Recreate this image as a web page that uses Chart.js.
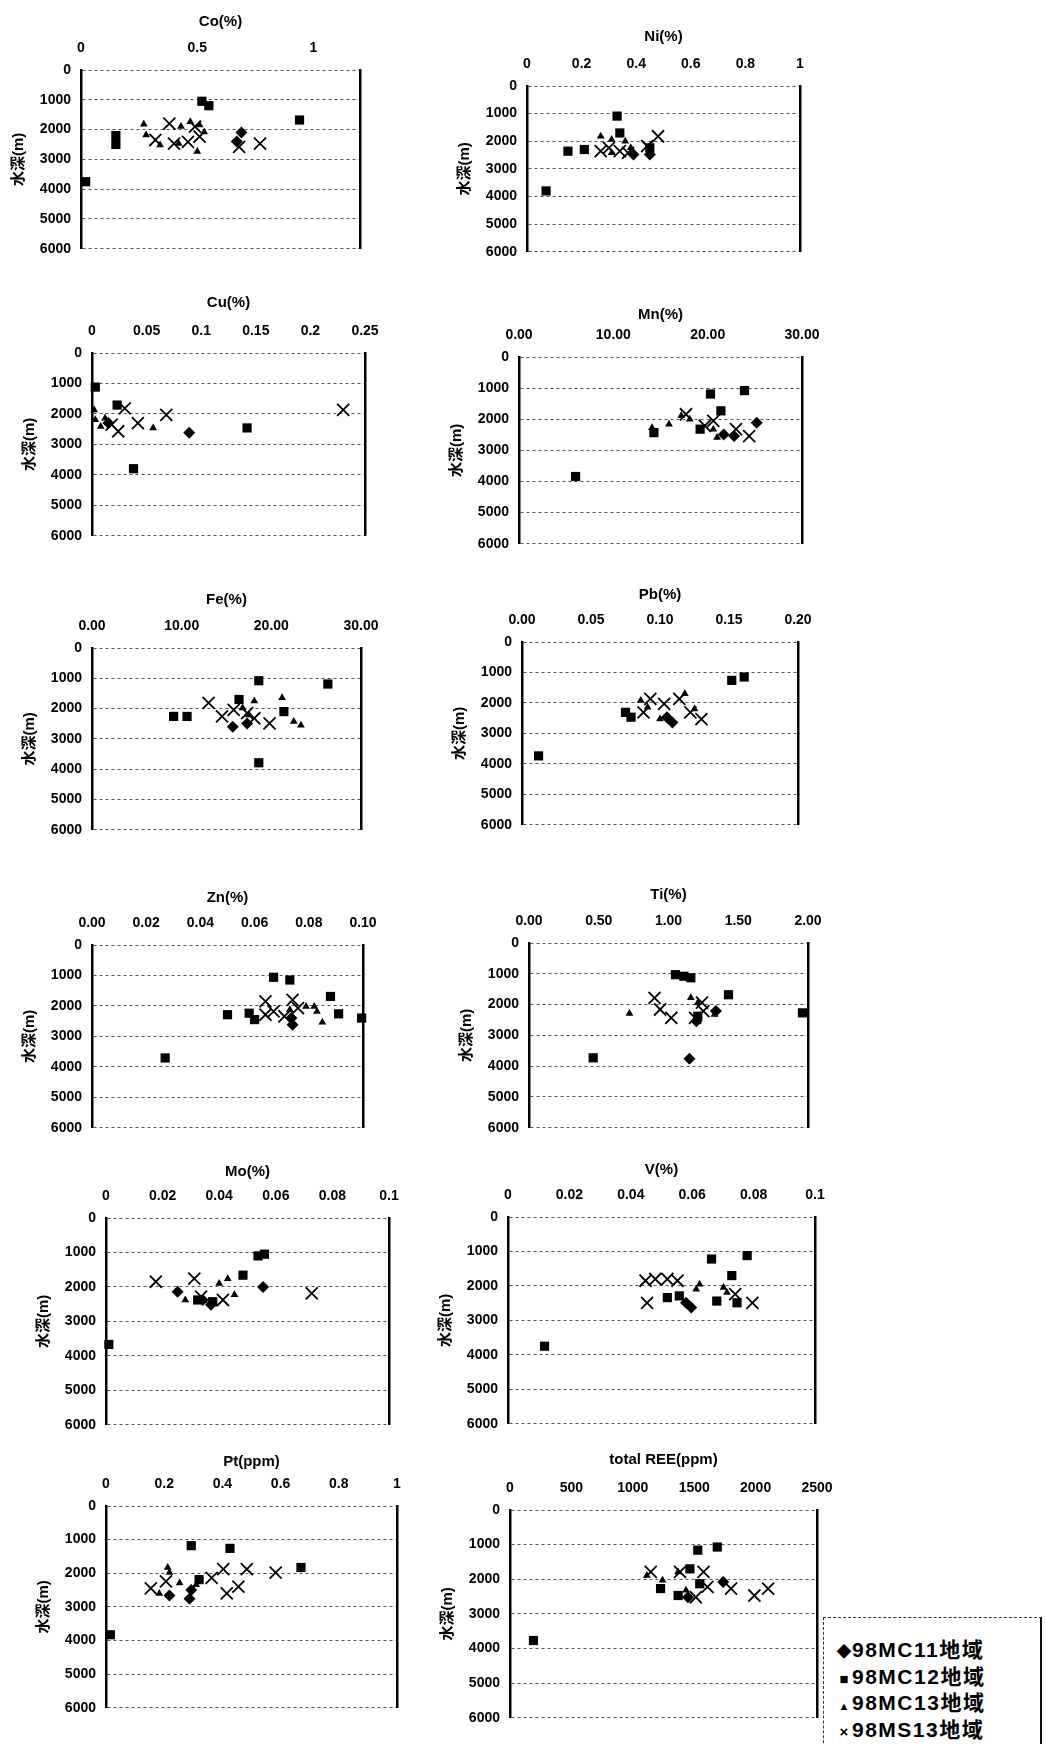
<!DOCTYPE html>
<html>
<head>
<meta charset="utf-8">
<script src="https://cdn.jsdelivr.net/npm/chart.js@4.4.1/dist/chart.umd.min.js"></script>
<style>
  body { margin: 0; background: #fff; }
  #page { position: relative; width: 1045px; height: 1744px; overflow: hidden; }
  #page canvas { position: absolute; }
  #legend {
    position: absolute; left: 823px; top: 1617px; width: 216px; height: 140px;
    border-top: 1px dashed #333; border-left: 1px dashed #333; border-right: 2px solid #111;
    font: bold 21px "Liberation Sans", "Noto Sans CJK JP", sans-serif; color: #000;
  }
  #legend div { position: absolute; left: 12px; height: 22px; line-height: 22px; white-space: nowrap; letter-spacing: 1.5px; }
  #legend span { display: inline-block; width: 16px; text-align: center; letter-spacing: 0; }
</style>
</head>
<body>
<div id="page"><div id="legend"></div></div>
<script>
const seriesNames = ['98MC11地域', '98MC12地域', '98MC13地域', '98MS13地域'];
const depthTicks = ['0', '1000', '2000', '3000', '4000', '5000', '6000'];

// Co
const coTicks = ['0', '0.5', '1'];
const coMC11 = [[0.69, 2100], [0.67, 2400]];
const coMC12 = [[0.15, 2200], [0.15, 2500], [0.02, 3750], [0.52, 1050], [0.55, 1200], [0.94, 1680]];
const coMC13 = [[0.27, 1820], [0.28, 2180], [0.43, 1900], [0.47, 1740], [0.51, 1850], [0.50, 2740], [0.42, 2470], [0.53, 2080], [0.34, 2520]];
const coMS13 = [[0.38, 1800], [0.32, 2350], [0.40, 2470], [0.46, 2410], [0.51, 2240], [0.68, 2580], [0.77, 2470], [0.49, 1900]];

// Ni
const niTicks = ['0', '0.2', '0.4', '0.6', '0.8', '1'];
const niMC11 = [[0.39, 2480], [0.45, 2480]];
const niMC12 = [[0.33, 1090], [0.34, 1700], [0.15, 2360], [0.21, 2300], [0.07, 3800], [0.45, 2240]];
const niMC13 = [[0.27, 1820], [0.31, 1940], [0.36, 2000], [0.38, 2240], [0.31, 2420]];
const niMS13 = [[0.27, 2360], [0.34, 2360], [0.37, 2420], [0.48, 1820], [0.44, 2180], [0.30, 2240]];

// Cu
const cuTicks = ['0', '0.05', '0.1', '0.15', '0.2', '0.25'];
const cuMC11 = [[0.089, 2620], [0.015, 2300]];
const cuMC12 = [[0.003, 1120], [0.023, 1710], [0.038, 3800], [0.142, 2460]];
const cuMC13 = [[0.002, 1870], [0.003, 2190], [0.008, 2410], [0.056, 2460], [0.012, 2140]];
const cuMS13 = [[0.030, 1820], [0.024, 2570], [0.068, 2030], [0.042, 2300], [0.230, 1870], [0.018, 2350]];

// Mn
const mnTicks = ['0.00', '10.00', '20.00', '30.00'];
const mnMC11 = [[25.2, 2110], [22.8, 2540], [21.7, 2490]];
const mnMC12 = [[20.3, 1190], [23.9, 1080], [21.4, 1730], [6.0, 3840], [14.3, 2430], [19.2, 2320]];
const mnMC13 = [[15.9, 2160], [17.2, 1890], [18.1, 2000], [14.1, 2270], [20.6, 2320], [21.0, 2590]];
const mnMS13 = [[17.7, 1840], [19.7, 2210], [24.4, 2540], [23.0, 2320], [20.6, 2050]];

// Fe
const feTicks = ['0.00', '10.00', '20.00', '30.00'];
const feMC11 = [[15.7, 2600], [17.3, 2490]];
const feMC12 = [[9.1, 2260], [10.6, 2260], [18.6, 1080], [26.3, 1190], [18.6, 3790], [16.4, 1700], [21.4, 2100]];
const feMC13 = [[18.1, 1750], [17.5, 2210], [22.5, 2430], [23.3, 2550], [21.2, 1640], [16.8, 1980]];
const feMS13 = [[13.0, 1810], [14.5, 2260], [15.8, 2040], [17.3, 2150], [19.8, 2490], [18.1, 2320]];

// Pb
const pbTicks = ['0.00', '0.05', '0.10', '0.15', '0.20'];
const pbMC11 = [[0.109, 2640], [0.105, 2470]];
const pbMC12 = [[0.012, 3740], [0.075, 2310], [0.079, 2470], [0.152, 1260], [0.161, 1150]];
const pbMC13 = [[0.086, 1920], [0.100, 2530], [0.118, 1700], [0.091, 2140], [0.125, 2200]];
const pbMS13 = [[0.093, 1870], [0.103, 2030], [0.114, 1870], [0.122, 2310], [0.130, 2530], [0.088, 2310]];

// Zn
const znTicks = ['0.00', '0.02', '0.04', '0.06', '0.08', '0.10'];
const znMC11 = [[0.0736, 2400], [0.074, 2620]];
const znMC12 = [[0.050, 2290], [0.058, 2240], [0.067, 1060], [0.073, 1150], [0.088, 1690], [0.091, 2260], [0.0995, 2400], [0.027, 3710], [0.060, 2450]];
const znMC13 = [[0.079, 2020], [0.083, 2180], [0.085, 2540], [0.073, 2130], [0.082, 2020]];
const znMS13 = [[0.064, 1850], [0.067, 2180], [0.074, 1800], [0.071, 2340], [0.076, 2070], [0.064, 2290]];

// Ti
const tiTicks = ['0.00', '0.50', '1.00', '1.50', '2.00'];
const tiMC11 = [[1.15, 3760], [1.34, 2210], [1.20, 2540]];
const tiMC12 = [[1.05, 1030], [1.11, 1080], [1.16, 1130], [1.43, 1680], [1.96, 2270], [0.46, 3730], [1.21, 2380]];
const tiMC13 = [[0.72, 2290], [1.16, 1780], [1.21, 1940], [1.33, 2320]];
const tiMS13 = [[0.90, 1780], [0.94, 2160], [1.02, 2430], [1.24, 1940], [1.19, 2430], [1.25, 2210]];

// Mo
const moTicks = ['0', '0.02', '0.04', '0.06', '0.08', '0.1'];
const moMC11 = [[0.0555, 2000], [0.0253, 2140], [0.0371, 2520], [0.0342, 2380]];
const moMC12 = [[0.001, 3670], [0.0537, 1100], [0.056, 1050], [0.0484, 1660], [0.0324, 2380], [0.0377, 2430]];
const moMC13 = [[0.040, 1900], [0.043, 1760], [0.0454, 2230], [0.028, 2380]];
const moMS13 = [[0.0176, 1850], [0.0312, 1760], [0.0413, 2380], [0.0727, 2190], [0.0336, 2280]];

// V
const vTicks = ['0', '0.02', '0.04', '0.06', '0.08', '0.1'];
const vMC11 = [[0.058, 2490], [0.0597, 2630]];
const vMC12 = [[0.0119, 3750], [0.0663, 1220], [0.0779, 1120], [0.0729, 1700], [0.0519, 2340], [0.068, 2440], [0.0746, 2490], [0.0558, 2290]];
const vMC13 = [[0.0613, 2100], [0.0624, 1950], [0.0702, 2050], [0.0713, 2190]];
const vMS13 = [[0.0448, 1850], [0.048, 1800], [0.0519, 1800], [0.0552, 1850], [0.0453, 2490], [0.0796, 2490], [0.074, 2240]];

// Pt
const ptTicks = ['0', '0.2', '0.4', '0.6', '0.8', '1'];
const ptMC11 = [[0.287, 2760], [0.218, 2660], [0.293, 2500]];
const ptMC12 = [[0.015, 3830], [0.293, 1180], [0.426, 1260], [0.67, 1830], [0.32, 2190]];
const ptMC13 = [[0.218, 1980], [0.212, 1830], [0.253, 2290], [0.183, 2600], [0.31, 2340]];
const ptMS13 = [[0.154, 2450], [0.206, 2240], [0.363, 2140], [0.403, 1880], [0.415, 2600], [0.455, 2400], [0.484, 1880], [0.583, 1980]];

// total REE
const reeTicks = ['0', '500', '1000', '1500', '2000', '2500'];
const reeMC11 = [[1736, 2080], [1449, 2520]];
const reeMC12 = [[191, 3770], [1529, 1160], [1688, 1070], [1465, 1700], [1226, 2270], [1369, 2470], [1545, 2130]];
const reeMC13 = [[1115, 1890], [1369, 1790], [1433, 2320], [1242, 2030]];
const reeMS13 = [[1146, 1790], [1385, 1790], [1576, 1790], [1608, 2220], [1800, 2270], [1990, 2470], [2102, 2270], [1513, 2520]];

// panel layout: plot box [left, top, right, bottom] in page pixels, title gap above plot
const panels = [
  { title: 'Co(%)', max: 1.2, ticks: coTicks, series: [coMC11, coMC12, coMC13, coMS13], box: [81, 70, 360, 251], gap: 48 },
  { title: 'Ni(%)', max: 1, ticks: niTicks, series: [niMC11, niMC12, niMC13, niMS13], box: [527, 86, 800, 254], gap: 49 },
  { title: 'Cu(%)', max: 0.25, ticks: cuTicks, series: [cuMC11, cuMC12, cuMC13, cuMS13], box: [92, 353, 365, 538], gap: 50 },
  { title: 'Mn(%)', max: 30, ticks: mnTicks, series: [mnMC11, mnMC12, mnMC13, mnMS13], box: [519, 357, 802, 546], gap: 42 },
  { title: 'Fe(%)', max: 30, ticks: feTicks, series: [feMC11, feMC12, feMC13, feMS13], box: [92, 648, 361, 832], gap: 48 },
  { title: 'Pb(%)', max: 0.2, ticks: pbTicks, series: [pbMC11, pbMC12, pbMC13, pbMS13], box: [522, 642, 798, 827], gap: 47 },
  { title: 'Zn(%)', max: 0.1, ticks: znTicks, series: [znMC11, znMC12, znMC13, znMS13], box: [92, 945, 363, 1130], gap: 47 },
  { title: 'Ti(%)', max: 2, ticks: tiTicks, series: [tiMC11, tiMC12, tiMC13, tiMS13], box: [529, 943, 808, 1130], gap: 48 },
  { title: 'Mo(%)', max: 0.1, ticks: moTicks, series: [moMC11, moMC12, moMC13, moMS13], box: [106, 1218, 389, 1427], gap: 46 },
  { title: 'V(%)', max: 0.1, ticks: vTicks, series: [vMC11, vMC12, vMC13, vMS13], box: [508, 1217, 815, 1426], gap: 47 },
  { title: 'Pt(ppm)', max: 1, ticks: ptTicks, series: [ptMC11, ptMC12, ptMC13, ptMS13], box: [106, 1506, 397, 1710], gap: 44 },
  { title: 'total REE(ppm)', max: 2500, ticks: reeTicks, series: [reeMC11, reeMC12, reeMC13, reeMS13], box: [510, 1510, 817, 1720], gap: 50 }
];

const styles = ['rectRot', 'rect', 'triangle', 'crossRot'];
const radii = [6, 6.5, 4.5, 8.5];
const glyphs = ['◆', '■', '▲', '×'];

const FONT = '"Liberation Sans", "Noto Sans CJK JP", sans-serif';
const AX_W = 80, AX_H = 62, PAD_R = 26;
const page = document.getElementById('page');

// keep edge tick labels from shrinking the plot area
const noPad = s => { s.paddingLeft = 0; s.paddingRight = 0; s.paddingTop = 0; s.paddingBottom = 0; };

panels.forEach(p => {
  const [l, t, r, b] = p.box;
  const cv = document.createElement('canvas');
  cv.width = r - l + AX_W + PAD_R;
  cv.height = b - t + AX_H + 8;
  cv.style.left = (l - AX_W) + 'px';
  cv.style.top = (t - AX_H) + 'px';
  page.appendChild(cv);

  new Chart(cv, {
    type: 'scatter',
    data: {
      datasets: p.series.map((pts, i) => ({
        label: seriesNames[i],
        data: pts.map(v => ({ x: v[0], y: v[1] })),
        pointStyle: styles[i],
        pointRadius: radii[i],
        backgroundColor: '#000',
        borderColor: '#000',
        borderWidth: i === 3 ? 1.8 : 0,
        clip: false
      }))
    },
    options: {
      responsive: false,
      animation: false,
      devicePixelRatio: 1,
      layout: { padding: { left: 0, top: 0, right: PAD_R, bottom: 8 } },
      plugins: { legend: { display: false }, tooltip: { enabled: false } },
      scales: {
        x: {
          type: 'linear', position: 'top', min: 0, max: p.max,
          afterBuildTicks: s => { s.ticks = p.ticks.map(v => ({ value: parseFloat(v) })); },
          afterFit: s => { s.height = AX_H; noPad(s); },
          grid: { display: false, drawTicks: false },
          border: { display: false },
          ticks: {
            color: '#000', padding: 13, maxRotation: 0, autoSkip: false,
            font: { family: FONT, size: 14, weight: 'bold' },
            callback: (v, i) => p.ticks[i]
          },
          title: {
            display: true, text: p.title, color: '#000',
            padding: { top: AX_H - p.gap - 9, bottom: 0 },
            font: { family: FONT, size: 15, weight: 'bold' }
          }
        },
        y: {
          type: 'linear', position: 'left', min: 0, max: 6000, reverse: true,
          afterBuildTicks: s => { s.ticks = depthTicks.map(v => ({ value: Number(v) })); },
          afterFit: s => { s.width = AX_W; noPad(s); },
          grid: { color: '#555', lineWidth: 1, drawTicks: false },
          border: { display: true, color: '#000', width: 2.5, dash: [3, 3] },
          ticks: {
            color: '#000', padding: 10,
            font: { family: FONT, size: 14, weight: 'bold' },
            callback: (v, i) => depthTicks[i]
          },
          title: {
            display: true, text: '水深(m)', color: '#000',
            padding: { top: 9, bottom: 0 },
            font: { family: FONT, size: 15, weight: 'bold' }
          }
        },
        y2: {
          type: 'linear', position: 'right', min: 0, max: 6000, reverse: true,
          afterFit: s => { s.width = 0; noPad(s); },
          grid: { display: false, drawTicks: false },
          border: { display: true, color: '#000', width: 2.5 },
          ticks: { display: false }
        }
      }
    }
  });
});

const legend = document.getElementById('legend');
seriesNames.forEach((name, i) => {
  const row = document.createElement('div');
  row.style.top = (21 + i * 26.7) + 'px';
  const mk = document.createElement('span');
  mk.textContent = glyphs[i];
  mk.style.fontSize = i === 2 ? '11px' : '15px';
  row.appendChild(mk);
  row.appendChild(document.createTextNode(name));
  legend.appendChild(row);
});
</script>
</body>
</html>
